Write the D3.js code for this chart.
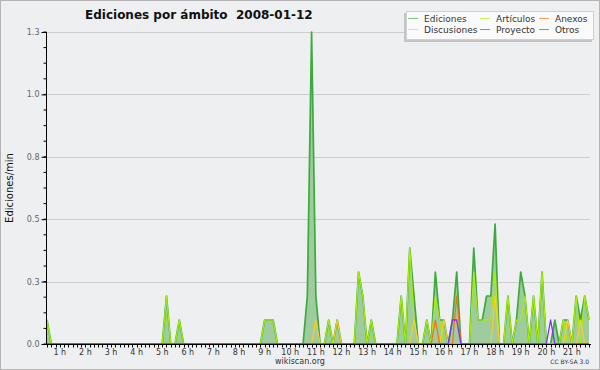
<!DOCTYPE html>
<html lang="es">
<head>
	<meta charset="utf-8" />
	<title>Ediciones por ámbito</title>
	<script src="https://d3js.org/d3.v7.min.js"></script>
	<style>
	body { margin: 0; background: #fff; }
	svg { display: block; }
	text { font-family: "DejaVu Sans", sans-serif; }
	</style>
</head>
<body>
<svg width="600" height="370"></svg>
<script>

//	10 minute slots, first slot at 00:30
var slotStart = 0.5, slotsPerHour = 6;

var hourLabels = ["1 h","2 h","3 h","4 h","5 h","6 h","7 h","8 h","9 h","10 h","11 h",
	"12 h","13 h","14 h","15 h","16 h","17 h","18 h","19 h","20 h","21 h"];
var hourValues = [1,2,3,4,5,6,7,8,9,10,11,12,13,14,15,16,17,18,19,20,21];

//	edits per minute, one value per slot
var ediciones = [
	0.1,0,0,0,0,0,0,0,0,0,0,0,0,0,0,0,
	0,0,0,0,0,0,0,0,0,0,0,0,0.2,0,0,0.1,
	0,0,0,0,0,0,0,0,0,0,0,0,0,0,0,0,
	0,0,0,0.1,0.1,0.1,0,0,0,0,0,0,0,0.2,1.3,0.2,
	0,0,0.1,0,0.1,0,0,0,0,0.3,0.2,0,0.1,0,0,0,
	0,0,0,0.2,0,0.4,0.2,0,0,0.1,0,0.3,0.1,0.1,0,0.1,
	0.3,0,0,0,0.4,0.1,0.1,0.2,0.2,0.5,0,0,0.2,0,0.1,0.3,
	0.2,0,0.2,0,0.3,0,0,0.1,0,0.1,0.1,0,0.2,0.1,0.2,0.1];
var articulos = [
	0.1,0,0,0,0,0,0,0,0,0,0,0,0,0,0,0,
	0,0,0,0,0,0,0,0,0,0,0,0,0.2,0,0,0.1,
	0,0,0,0,0,0,0,0,0,0,0,0,0,0,0,0,
	0,0,0,0.1,0.1,0.1,0,0,0,0,0,0,0,0,0,0,
	0,0,0.1,0,0,0,0,0,0,0.3,0.2,0,0.1,0,0,0,
	0,0,0,0.2,0,0.4,0.1,0,0,0.1,0,0.2,0.1,0,0,0,
	0,0,0,0,0.3,0.1,0.1,0.1,0.1,0.3,0,0,0.2,0,0.1,0.1,
	0.2,0,0.2,0,0.3,0,0,0,0,0.1,0,0,0.2,0,0.2,0.1];
var discusiones = [
	0,0,0,0,0,0,0,0,0,0,0,0,0,0,0,0,
	0,0,0,0,0,0,0,0,0,0,0,0,0,0,0,0,
	0,0,0,0,0,0,0,0,0,0,0,0,0,0,0,0,
	0,0,0,0,0,0,0,0,0,0,0,0,0,0,0,0.1,
	0,0,0,0,0.1,0,0,0,0,0,0,0,0,0,0,0,
	0,0,0,0,0,0,0.1,0,0,0,0,0,0,0.1,0,0,
	0,0,0,0,0,0,0,0,0,0.2,0,0,0,0,0,0,
	0,0,0,0,0,0,0,0,0,0,0.1,0,0,0.1,0,0];
var anexos = [
	0,0,0,0,0,0,0,0,0,0,0,0,0,0,0,0,
	0,0,0,0,0,0,0,0,0,0,0,0,0,0,0,0,
	0,0,0,0,0,0,0,0,0,0,0,0,0,0,0,0,
	0,0,0,0,0,0,0,0,0,0,0,0,0,0,0,0,
	0,0,0,0,0,0,0,0,0,0,0,0,0,0,0,0,
	0,0,0,0,0,0,0,0,0,0,0,0.1,0,0,0,0,
	0.2,0,0,0,0,0,0,0,0,0,0,0,0,0,0,0,
	0,0,0,0,0,0,0,0,0,0,0,0,0,0,0,0];
var proyecto = [
	0,0,0,0,0,0,0,0,0,0,0,0,0,0,0,0,
	0,0,0,0,0,0,0,0,0,0,0,0,0,0,0,0,
	0,0,0,0,0,0,0,0,0,0,0,0,0,0,0,0,
	0,0,0,0,0,0,0,0,0,0,0,0,0,0,0,0,
	0,0,0,0,0,0,0,0,0,0,0,0,0,0,0,0,
	0,0,0,0,0,0,0,0,0,0,0,0,0,0,0,0,
	0,0,0,0,0,0,0,0,0,0,0,0,0,0,0,0,
	0,0,0,0,0,0,0,0,0,0,0,0,0,0,0,0];
var otros = [
	0,0,0,0,0,0,0,0,0,0,0,0,0,0,0,0,
	0,0,0,0,0,0,0,0,0,0,0,0,0,0,0,0,
	0,0,0,0,0,0,0,0,0,0,0,0,0,0,0,0,
	0,0,0,0,0,0,0,0,0,0,0,0,0,0,0,0,
	0,0,0,0,0,0,0,0,0,0,0,0,0,0,0,0,
	0,0,0,0,0,0,0,0,0,0,0,0,0,0,0,0.1,
	0.1,0,0,0,0,0,0,0,0,0,0,0,0,0,0,0,
	0,0,0,0,0,0,0.1,0,0,0,0,0,0,0,0,0];

var seriesNames = ["Ediciones","Artículos","Anexos","Discusiones","Proyecto","Otros"];
var seriesColors = ["#3caa3c","#aaee00","#ff6a10","#ffcc22","#555555","#8030f0"];

var yTicks = [0, 0.26, 0.52, 0.78, 1.04, 1.3];

//	svg and sizes (plot box)
var svg = d3.select("svg"),
	width = +svg.attr("width"),
	height = +svg.attr("height");
var pLeft = 47, pRight = 589, pTop = 32, pBottom = 344;

svg.append("rect")
	.attr("x", 0.5).attr("y", 0.5)
	.attr("width", width - 1).attr("height", height - 1)
	.attr("fill", "#eeeff0")
	.attr("stroke", "#b4b4b4");

var n = ediciones.length;
var x = d3.scaleLinear().domain([slotStart, slotStart + (n - 1) / slotsPerHour]).range([pLeft, pRight]);
var y = d3.scaleLinear().domain([0, 1.3]).range([pBottom, pTop]);
function slotX(d, i) { return x(slotStart + i / slotsPerHour); }

//	grid
svg.append("g").selectAll("line")
	.data(yTicks.slice(1))
	.enter().append("line")
	.attr("x1", pLeft).attr("x2", pRight + 1)
	.attr("y1", d => Math.round(y(d)) + 0.5).attr("y2", d => Math.round(y(d)) + 0.5)
	.attr("stroke", "#cdcdcd");

//	total area
var area = d3.area()
	.x(slotX)
	.y0(pBottom)
	.y1(d => y(d));
svg.append("path")
	.datum(ediciones)
	.attr("d", area)
	.attr("fill", "#9fcc9f");

var line = d3.line().x(slotX).y(d => y(d));

var lines = [
	{ values: ediciones, color: seriesColors[0], w: 1.7 },
	{ values: articulos, color: seriesColors[1], w: 1.2 },
	{ values: proyecto, color: seriesColors[4], w: 1.2 },
	{ values: discusiones, color: seriesColors[3], w: 1.2 },
	{ values: anexos, color: seriesColors[2], w: 1.2 },
	{ values: otros, color: seriesColors[5], w: 1.3 }
];
svg.append("g").selectAll("path")
	.data(lines)
	.enter().append("path")
	.attr("d", d => line(d.values))
	.attr("fill", "none")
	.attr("stroke", d => d.color)
	.attr("stroke-width", d => d.w)
	.attr("stroke-linejoin", "round");

//	y axis
var yAxis = d3.axisLeft(y)
	.tickValues(yTicks)
	.tickFormat(d3.format(".1f"))
	.tickSize(5)
	.tickPadding(2);
var gy = svg.append("g")
	.attr("transform", "translate(" + (pLeft - 0.5) + ",0)")
	.call(yAxis);
gy.select(".domain").attr("d", "M0," + pTop + "V" + pBottom);
gy.selectAll("text").attr("font-size", 8).attr("fill", "#666").attr("font-family", "DejaVu Sans");
gy.append("g").selectAll("line")
	.data(d3.range(0, 1.3001, 0.065))
	.enter().append("line")
	.attr("x1", -3).attr("x2", 0)
	.attr("y1", d => y(d)).attr("y2", d => y(d))
	.attr("stroke", "#000");

//	x axis
var gx = svg.append("g").attr("transform", "translate(0," + (pBottom + 0.5) + ")");
gx.append("line")
	.attr("x1", pLeft - 1).attr("x2", pRight + 2)
	.attr("stroke", "#000");
gx.selectAll(".tick")
	.data(ediciones)
	.enter().append("line")
	.attr("x1", (d, i) => Math.round(slotX(d, i)) + 0.5)
	.attr("x2", (d, i) => Math.round(slotX(d, i)) + 0.5)
	.attr("y1", 0).attr("y2", 3)
	.attr("stroke", "#000");
gx.selectAll("text")
	.data(hourValues)
	.enter().append("text")
	.attr("x", d => x(d))
	.attr("y", 10)
	.attr("text-anchor", "middle")
	.attr("font-size", 8)
	.attr("fill", "#333")
	.text((d, i) => hourLabels[i]);

//	labels
svg.append("text")
	.attr("x", 85).attr("y", 19)
	.attr("font-family", "DejaVu Sans Condensed")
	.attr("font-weight", "bold")
	.attr("font-size", 12)
	.attr("fill", "#111")
	.attr("xml:space", "preserve")
	.text("Ediciones por ámbito  2008-01-12");

svg.append("text")
	.attr("transform", "translate(13,188) rotate(-90)")
	.attr("text-anchor", "middle")
	.attr("font-family", "DejaVu Sans Mono")
	.attr("font-size", 10)
	.attr("fill", "#111")
	.text("Ediciones/min");

svg.append("text")
	.attr("x", 300).attr("y", 364)
	.attr("text-anchor", "middle")
	.attr("font-size", 8)
	.attr("fill", "#333")
	.text("wikiscan.org");

svg.append("text")
	.attr("x", 589).attr("y", 364)
	.attr("text-anchor", "end")
	.attr("font-size", 6)
	.attr("fill", "#333")
	.text("CC BY-SA 3.0");

//	legend
var legend = svg.append("g");
legend.append("rect")
	.attr("x", 404).attr("y", 13).attr("width", 188).attr("height", 29)
	.attr("fill", "#c4c4c4");
legend.append("rect")
	.attr("x", 406.5).attr("y", 11.5).attr("width", 187).attr("height", 28)
	.attr("fill", "#fafafa")
	.attr("stroke", "#d0d0d0");
var colX = [408, 480, 539];
var item = legend.selectAll(".item")
	.data(seriesNames)
	.enter().append("g")
	.attr("transform", (d, i) => "translate(" + colX[i % 3] + "," + (i < 3 ? 18.5 : 29.5) + ")");
item.append("line")
	.attr("x1", 0).attr("x2", 10)
	.attr("stroke", (d, i) => seriesColors[i])
	.attr("stroke-opacity", 0.65)
	.attr("stroke-width", 1);
item.append("text")
	.attr("x", 16).attr("y", 3.5)
	.attr("font-size", 9)
	.attr("fill", "#333")
	.text(d => d);

</script>
</body>
</html>
